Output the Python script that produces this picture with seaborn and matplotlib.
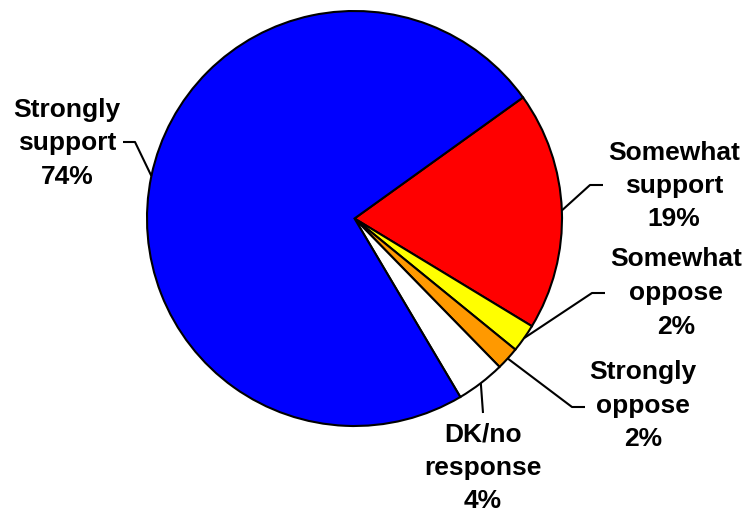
import numpy as np
import matplotlib
matplotlib.use("Agg")
import matplotlib.pyplot as plt
import seaborn as sns

# ---- data ----
categories = ["Somewhat support", "Somewhat oppose", "Strongly oppose",
              "DK/no response", "Strongly support"]
label_text = ["Somewhat\nsupport", "Somewhat\noppose", "Strongly\noppose",
              "DK/no\nresponse", "Strongly\nsupport"]
values = [18.6, 2.2, 1.8, 3.8, 73.6]
pct_labels = ["19%", "2%", "2%", "4%", "74%"]
colors = ["#FF0000", "#FFFF00", "#FF9900", "#FFFFFF", "#0000FF"]

sns.set_theme(style="white")
plt.rcParams['font.family'] = ['Liberation Sans', 'DejaVu Sans']

W, H = 753, 514
fig = plt.figure(figsize=(W / 100, H / 100), dpi=100)
ax = fig.add_axes([0, 0, 1, 1])


def py(y):
    return H - y


cx, cy, R = 354.5, py(218.5), 207.5
wedges, _ = ax.pie(values, colors=colors, startangle=35.7, counterclock=False,
                   center=(cx, cy), radius=R, frame=True,
                   wedgeprops=dict(edgecolor='black', linewidth=1.5))
ax.set_xlim(0, W)
ax.set_ylim(0, H)
ax.set_aspect('equal')
ax.axis('off')

# label layout (text centre, leader knee, leader end) in pixel coords
text_pos = [(674, 186), (676, 293), (643, 406), (483, 468), (67, 143)]
knees = [(590, 185), (592, 293), (572, 407), None, (135, 142)]
ends = [(603, 185), (605, 293), (585, 407), (483, 413), (123, 142)]

for i, w in enumerate(wedges):
    mid = np.deg2rad((w.theta1 + w.theta2) / 2)
    sx, sy = cx + R * np.cos(mid), cy + R * np.sin(mid)
    xs, ys = [sx], [sy]
    if knees[i] is not None:
        xs.append(knees[i][0]); ys.append(py(knees[i][1]))
    xs.append(ends[i][0]); ys.append(py(ends[i][1]))
    ax.plot(xs, ys, color='black', lw=1.5, solid_capstyle='butt', zorder=3)
    tx, ty = text_pos[i]
    ax.text(tx, py(ty), f"{label_text[i]}\n{pct_labels[i]}", ha='center',
            va='center', fontsize=19, fontweight='bold', linespacing=1.5,
            color='black')

fig.savefig("out.png", dpi=100)
